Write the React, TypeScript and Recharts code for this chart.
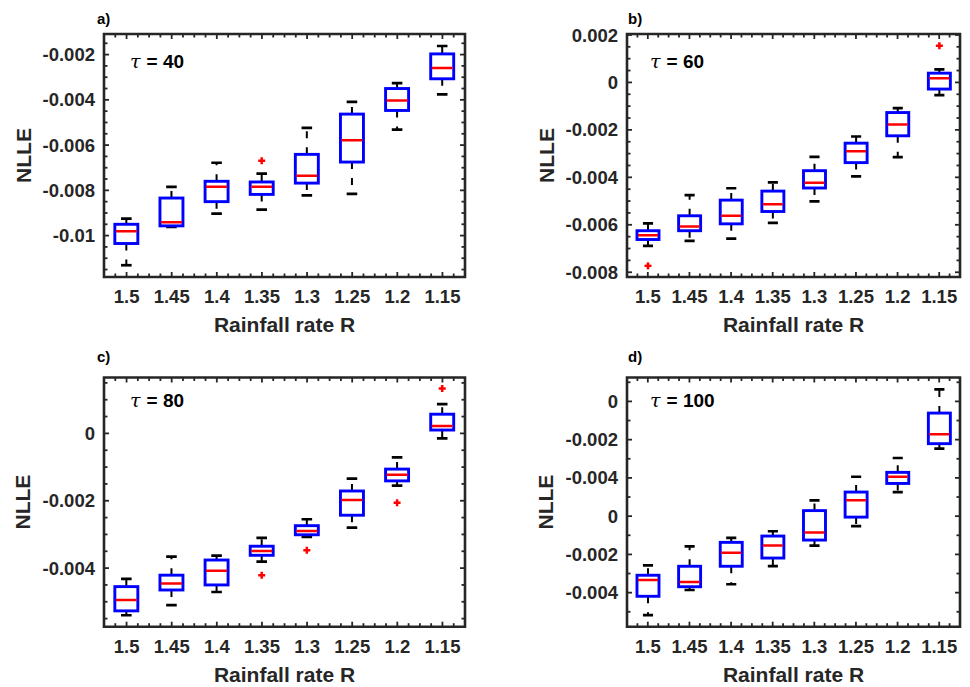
import React from 'react';
import { ComposedChart, Bar, XAxis, YAxis, ReferenceArea } from 'recharts';

// rainfall rate categories (same for all four panels)
const rainfall = ['1.5', '1.45', '1.4', '1.35', '1.3', '1.25', '1.2', '1.15'];

// a) tau = 40
const lowA = [-0.01131, -0.00962, -0.00903, -0.00885, -0.00822, -0.00816, -0.00532, -0.00376];
const q1A = [-0.01035, -0.00957, -0.0085, -0.00818, -0.00768, -0.00675, -0.00447, -0.00307];
const medA = [-0.00981, -0.00941, -0.00784, -0.00784, -0.00735, -0.00579, -0.00403, -0.00259];
const q3A = [-0.0095, -0.00834, -0.0076, -0.00763, -0.00641, -0.00463, -0.0035, -0.00197];
const highA = [-0.00925, -0.00785, -0.00678, -0.00726, -0.00524, -0.00409, -0.00326, -0.00162];
const outA = [[], [], [], [-0.00669], [], [], [], []];

// b) tau = 60
const lowB = [-0.00689, -0.00668, -0.00658, -0.00592, -0.00501, -0.00396, -0.00315, -0.00054];
const q1B = [-0.00662, -0.00625, -0.00596, -0.00544, -0.00445, -0.00338, -0.00225, -0.00028];
const medB = [-0.00644, -0.00607, -0.00562, -0.00513, -0.00423, -0.0029, -0.00177, 0.00018];
const q3B = [-0.00625, -0.00562, -0.00496, -0.00458, -0.00372, -0.00256, -0.00127, 0.00039];
const highB = [-0.00594, -0.00475, -0.00446, -0.00421, -0.00314, -0.00228, -0.00108, 0.00055];
const outB = [[-0.00773], [], [], [], [], [], [], [0.00155]];

// c) tau = 80
const lowC = [-0.0054, -0.0051, -0.00471, -0.00381, -0.00307, -0.0028, -0.00155, -0.00015];
const q1C = [-0.00527, -0.00465, -0.0045, -0.00362, -0.00301, -0.00243, -0.00141, 0.0001];
const medC = [-0.00495, -0.00446, -0.00408, -0.00349, -0.0029, -0.00198, -0.00123, 0.00022];
const q3C = [-0.00455, -0.00421, -0.00376, -0.00335, -0.00274, -0.00171, -0.00106, 0.00057];
const highC = [-0.00432, -0.00366, -0.00363, -0.0031, -0.00255, -0.00134, -0.00071, 0.00087];
const outC = [[], [], [], [-0.00421], [-0.00347], [], [-0.00206], [0.00133]];

// d) tau = 100
const lowD = [-0.01118, -0.00986, -0.00956, -0.00861, -0.00754, -0.00652, -0.00474, -0.00247];
const q1D = [-0.01019, -0.00969, -0.00862, -0.00819, -0.00725, -0.00605, -0.00429, -0.00221];
const medD = [-0.00934, -0.00944, -0.00791, -0.00753, -0.00685, -0.00517, -0.00394, -0.00172];
const q3D = [-0.00909, -0.00862, -0.00737, -0.00704, -0.00571, -0.00474, -0.00371, -0.00061];
const highD = [-0.00857, -0.00758, -0.00714, -0.00679, -0.00517, -0.00394, -0.00296, 0.00063];
const outD = [[], [], [], [], [], [], [], []];

// y ticks and their printed labels (panel d repeats its labels, as in the figure)
const ticksA = [-0.01, -0.008, -0.006, -0.004, -0.002];
const labelsA = ['-0.01', '-0.008', '-0.006', '-0.004', '-0.002'];
const ticksB = [-0.008, -0.006, -0.004, -0.002, 0, 0.002];
const labelsB = ['-0.008', '-0.006', '-0.004', '-0.002', '0', '0.002'];
const ticksC = [-0.004, -0.002, 0];
const labelsC = ['-0.004', '-0.002', '0'];
const ticksD = [-0.01, -0.008, -0.006, -0.004, -0.002, 0];
const labelsD = ['-0.004', '-0.002', '0', '-0.004', '-0.002', '0'];

const FRAME = '#262626';
const FONT = "'Liberation Sans', Arial, Helvetica, sans-serif";
const TICK_FONT = 18.5;
const Y_AXIS_W = 80;
const X_AXIS_H = 30;

const buildRows = (lo: number[], q1: number[], med: number[], q3: number[], hi: number[], out: number[][]) =>
  rainfall.map((r, i) => ({ r, lo: lo[i], q1: q1[i], med: med[i], q3: q3[i], hi: hi[i], out: out[i] }));

function stepTicks(domain: number[], step: number) {
  const res: number[] = [];
  const a = Math.ceil(domain[0] / step - 1e-9);
  const b = Math.floor(domain[1] / step + 1e-9);
  for (let i = a; i <= b; i++) res.push(+(i * step).toFixed(6));
  return res;
}

function BoxShape(props: any) {
  const { x, y, width, height, payload } = props;
  if (!payload) return null;
  const { lo, hi, q1, med, q3, out } = payload;
  const py = (v: number) => y + ((hi - v) / (hi - lo)) * height;
  const cx = x + width / 2;
  const cap = width * 0.23;
  const yq1 = py(q1);
  const yq3 = py(q3);
  const yLo = py(lo);
  const yHi = py(hi);
  return (
    <g>
      <line x1={cx} x2={cx} y1={yq3} y2={yHi} stroke="#000" strokeWidth={2} strokeDasharray="7 9" />
      <line x1={cx} x2={cx} y1={yq1} y2={yLo} stroke="#000" strokeWidth={2} strokeDasharray="7 9" />
      <line x1={cx - cap} x2={cx + cap} y1={yHi} y2={yHi} stroke="#000" strokeWidth={2.7} />
      <line x1={cx - cap} x2={cx + cap} y1={yLo} y2={yLo} stroke="#000" strokeWidth={2.7} />
      <rect x={x} y={yq3} width={width} height={yq1 - yq3} fill="none" stroke="#0000ff" strokeWidth={2.9} />
      <line x1={x + 1} x2={x + width - 1} y1={py(med)} y2={py(med)} stroke="#ff0000" strokeWidth={2.5} />
      {out.map((v: number, k: number) => {
        const oy = py(v);
        return (
          <g key={k} stroke="#ff0000" strokeWidth={2.5}>
            <line x1={cx - 3.5} x2={cx + 3.5} y1={oy} y2={oy} />
            <line x1={cx} x2={cx} y1={oy - 3.5} y2={oy + 3.5} />
          </g>
        );
      })}
    </g>
  );
}

const XTitle = (p: any) => {
  const vb = p.viewBox || {};
  return (
    <text x={vb.x + vb.width / 2} y={vb.y + 55} textAnchor="middle" fill={FRAME}
      fontFamily={FONT} fontWeight={700} fontSize={21}>
      Rainfall rate R
    </text>
  );
};

const YTitle = (p: any) => {
  const vb = p.viewBox || {};
  const cx = vb.x - 1;
  const cy = vb.y + vb.height / 2;
  return (
    <text x={cx} y={cy} transform={`rotate(-90 ${cx} ${cy})`} textAnchor="middle" dominantBaseline="central"
      fill={FRAME} fontFamily={FONT} fontWeight={700} fontSize={21}>
      NLLE
    </text>
  );
};

const tickStroke = { stroke: FRAME, strokeWidth: 1.8 };

interface PanelProps {
  left: number;
  top: number;
  width: number;
  height: number;
  margin: { top: number; right: number; bottom: number; left: number };
  rows: any[];
  domain: number[];
  ticks: number[];
  tickLabels: string[];
  minorStep: number;
}

function Panel({ left, top, width, height, margin, rows, domain, ticks, tickLabels, minorStep }: PanelProps) {
  const allY = stepTicks(domain, minorStep);
  const plotW = width - margin.left - Y_AXIS_W - margin.right;
  const plotH = height - margin.top - margin.bottom - X_AXIS_H;
  const band = plotW / rainfall.length;
  const Y_MARGIN = 9;
  const X_MARGIN = 13;

  // y ticks: inward marks on left and right edges, labels only on the major ones
  const YTick = (p: any) => {
    const fx = p.x + Y_MARGIN;
    const k = ticks.findIndex((t) => Math.abs(t - p.payload.value) < 1e-9);
    const len = k >= 0 ? 5 : 3.5;
    return (
      <g>
        <line x1={fx} x2={fx + len} y1={p.y} y2={p.y} {...tickStroke} />
        <line x1={fx + plotW} x2={fx + plotW - len} y1={p.y} y2={p.y} {...tickStroke} />
        {k >= 0 && (
          <text x={p.x} y={p.y} dy="0.355em" textAnchor="end" fill={FRAME}
            fontFamily={FONT} fontWeight={700} fontSize={TICK_FONT}>
            {tickLabels[k]}
          </text>
        )}
      </g>
    );
  };

  // x ticks: label at category centre, quarter-band marks on bottom and top edges
  const XTick = (p: any) => {
    const by = p.y - X_MARGIN;
    const ty = by - plotH;
    const offs = p.index === rainfall.length - 1 ? [-0.25, 0, 0.25] : [-0.25, 0, 0.25, 0.5];
    return (
      <g>
        {offs.map((o) => {
          const tx = p.x + o * band;
          const len = o === 0 ? 5 : 3.5;
          return (
            <g key={o}>
              <line x1={tx} x2={tx} y1={by} y2={by - len} {...tickStroke} />
              <line x1={tx} x2={tx} y1={ty} y2={ty + len} {...tickStroke} />
            </g>
          );
        })}
        <text x={p.x} y={p.y} dy="0.71em" textAnchor="middle" fill={FRAME}
          fontFamily={FONT} fontWeight={700} fontSize={TICK_FONT}>
          {p.payload.value}
        </text>
      </g>
    );
  };

  return (
    <div style={{ position: 'absolute', left, top }}>
      <ComposedChart width={width} height={height} data={rows} margin={margin} barCategoryGap="24%">
        <XAxis xAxisId="cat" dataKey="r" type="category" height={X_AXIS_H} interval={0}
          tickLine={false} tickSize={0} tickMargin={X_MARGIN} axisLine={false} tick={<XTick />}
          label={{ content: XTitle }} />
        <YAxis yAxisId="v" type="number" domain={domain} ticks={allY} allowDataOverflow interval={0}
          width={Y_AXIS_W} tickLine={false} tickSize={0} tickMargin={Y_MARGIN} axisLine={false}
          tick={<YTick />} label={{ content: YTitle }} />
        <Bar xAxisId="cat" yAxisId="v" dataKey={(d: any) => [d.lo, d.hi]} shape={<BoxShape />}
          isAnimationActive={false} />
        <ReferenceArea xAxisId="cat" yAxisId="v" x1={rainfall[0]} x2={rainfall[rainfall.length - 1]}
          y1={domain[0]} y2={domain[1]} fill="#ffffff" fillOpacity={0} stroke={FRAME}
          strokeWidth={2.6} strokeOpacity={1} ifOverflow="visible" />
      </ComposedChart>
    </div>
  );
}

const rowsA = buildRows(lowA, q1A, medA, q3A, highA, outA);
const rowsB = buildRows(lowB, q1B, medB, q3B, highB, outB);
const rowsC = buildRows(lowC, q1C, medC, q3C, highC, outC);
const rowsD = buildRows(lowD, q1D, medD, q3D, highD, outD);

function Tau({ x, y, value }: { x: number; y: number; value: string }) {
  return (
    <text x={x} y={y} fill="#000" fontFamily={FONT} fontWeight={700} fontSize={19}>
      <tspan fontFamily="'DejaVu Serif', 'Liberation Serif', serif" fontStyle="italic" fontWeight={400}>τ</tspan>
      <tspan dx={6}>= {value}</tspan>
    </text>
  );
}

export default function App() {
  const letter = { fill: '#000', fontFamily: FONT, fontWeight: 700, fontSize: 15 };
  return (
    <div style={{ position: 'absolute', left: 0, top: 0, width: 970, height: 687, background: '#fff' }}>
      <Panel left={0} top={0} width={485} height={340}
        margin={{ top: 34, right: 20, bottom: 33, left: 24 }}
        rows={rowsA} domain={[-0.01183, -0.00109]} ticks={ticksA} tickLabels={labelsA} minorStep={0.0005} />
      <Panel left={485} top={0} width={485} height={340}
        margin={{ top: 34, right: 10, bottom: 33, left: 62 }}
        rows={rowsB} domain={[-0.0082, 0.00204]} ticks={ticksB} tickLabels={labelsB} minorStep={0.0005} />
      <Panel left={0} top={340} width={485} height={347}
        margin={{ top: 37.5, right: 20, bottom: 30.3, left: 24 }}
        rows={rowsC} domain={[-0.00574, 0.00166]} ticks={ticksC} tickLabels={labelsC} minorStep={0.0005} />
      <Panel left={485} top={340} width={485} height={347}
        margin={{ top: 37.5, right: 10, bottom: 30.3, left: 62 }}
        rows={rowsD} domain={[-0.01178, 0.00125]} ticks={ticksD} tickLabels={labelsD} minorStep={0.001} />
      <svg width={970} height={687} style={{ position: 'absolute', left: 0, top: 0, pointerEvents: 'none' }}>
        <text x={97} y={24} {...letter}>a)</text>
        <text x={628} y={24} {...letter}>b)</text>
        <text x={97} y={361.7} {...letter}>c)</text>
        <text x={628} y={361.7} {...letter}>d)</text>
        <Tau x={130} y={68} value="40" />
        <Tau x={650} y={68} value="60" />
        <Tau x={130} y={406.7} value="80" />
        <Tau x={650} y={406.7} value="100" />
      </svg>
    </div>
  );
}
